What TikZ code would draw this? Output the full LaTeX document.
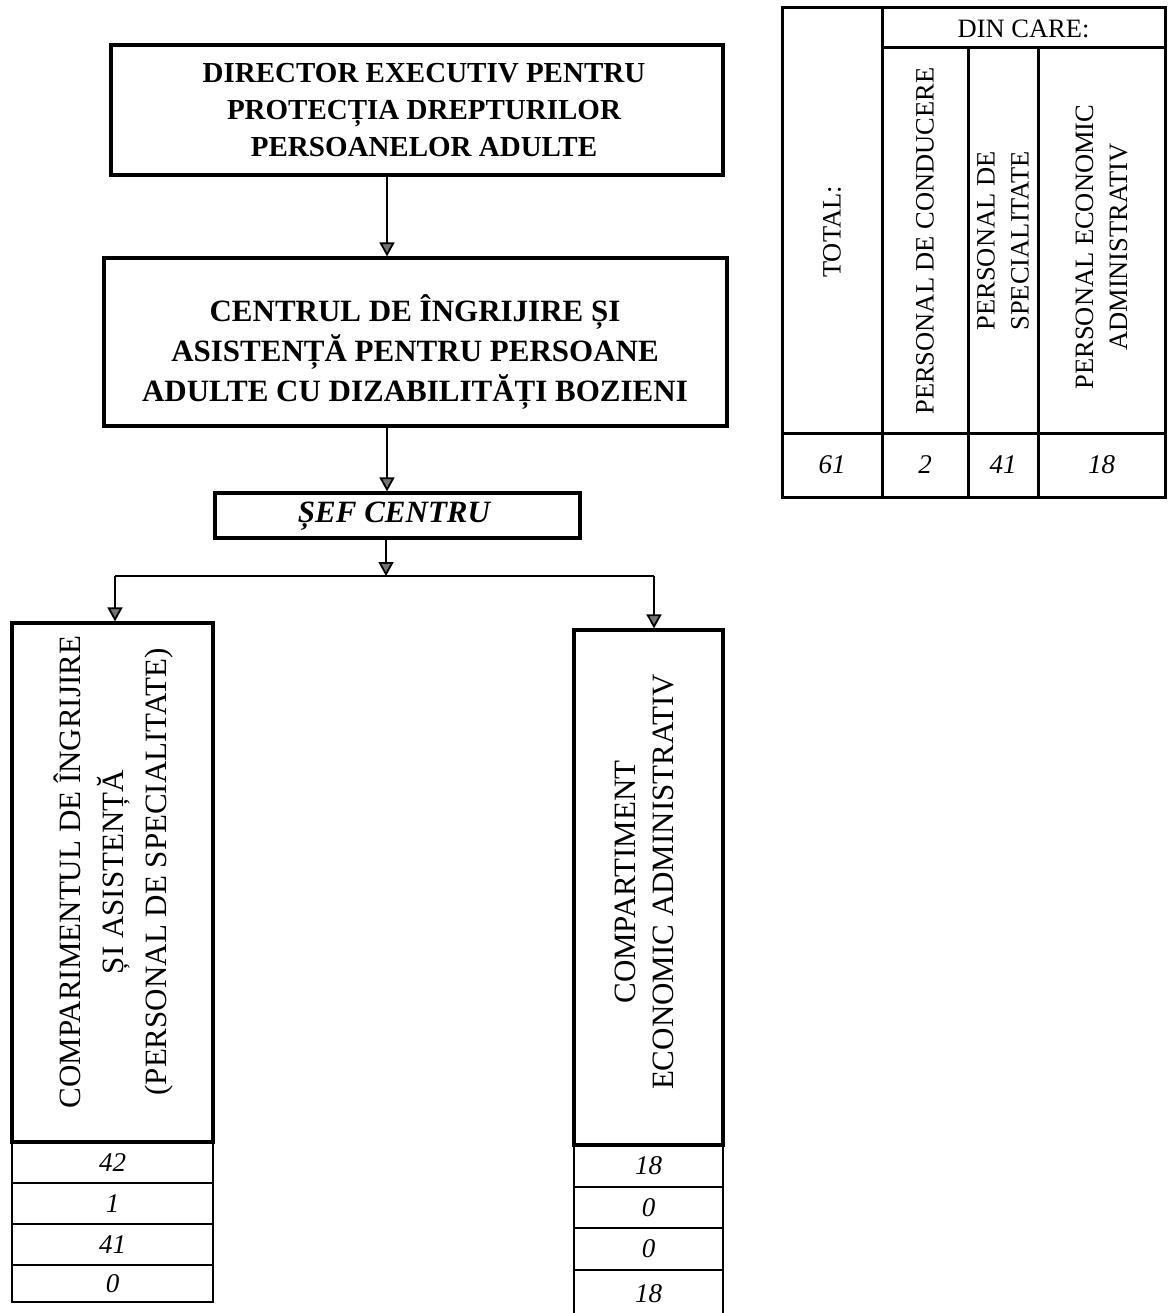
\documentclass[tikz,border=0pt]{standalone}
\usepackage{fontspec}
\setmainfont{Liberation Serif}
\usetikzlibrary{arrows.meta}
\tikzset{
  box/.style={draw, line width=3.2pt, inner sep=0pt},
  rowbox/.style={draw, line width=2pt, inner sep=0pt, font=\itshape\fontsize{27}{30}\selectfont},
  conn/.style={line width=1.8pt},
  arr/.style={conn, -{Triangle[width=15pt,length=14pt,fill=black!55]}},
  gridline/.style={line width=3pt},
  ttxt/.style={rotate=90, align=center, inner sep=0pt, font=\fontsize{26.5}{34}\selectfont},
  vtxt/.style={rotate=90, align=center, inner sep=0pt, font=\fontsize{31}{43}\selectfont},
  num/.style={inner sep=0pt, font=\itshape\fontsize{27}{30}\selectfont},
  head/.style={align=center, inner sep=0pt, font=\bfseries\fontsize{31}{40}\selectfont},
}
\begin{document}
\begin{tikzpicture}[x=1pt,y=-1pt]
\useasboundingbox (0,0) rectangle (1168,1313);
\fill[white] (0,0) rectangle (1168,1313);

% top boxes
\node[box, minimum width=612, minimum height=130] (dir) at (417,110) {};
\node[head, font=\bfseries\fontsize{29}{37}\selectfont] (dirtxt) at (424,110)
  {DIRECTOR EXECUTIV PENTRU\\PROTECȚIA DREPTURILOR\\PERSOANELOR ADULTE};

\node[box, minimum width=623, minimum height=168] (ctr) at (415.5,342) {};
\node[head] (ctrtxt) at (415,352)
  {CENTRUL DE ÎNGRIJIRE ȘI\\ASISTENȚĂ PENTRU PERSOANE\\ADULTE CU DIZABILITĂȚI BOZIENI};

\node[box, minimum width=365, minimum height=45] (sef) at (397.5,515.5) {};
\node[inner sep=0pt, font=\bfseries\itshape\fontsize{31}{36}\selectfont] (seftxt) at (394,516) {ȘEF CENTRU};

% bottom boxes
\node[box, minimum width=201, minimum height=519] (comp1) at (112.5,882.5) {};
\node[vtxt] (comp1txt) at (113,872)
  {COMPARIMENTUL DE ÎNGRIJIRE\\ȘI ASISTENȚĂ\\(PERSONAL DE SPECIALITATE)};
\node[rowbox, minimum width=201, minimum height=41] (l1) at (112.5,1162.5) {42};
\node[rowbox, minimum width=201, minimum height=41] (l2) at (112.5,1203.5) {1};
\node[rowbox, minimum width=201, minimum height=41] (l3) at (112.5,1244.5) {41};
\node[rowbox, minimum width=201, minimum height=37] (l4) at (112.5,1283.5) {0};

\node[box, minimum width=149, minimum height=515] (comp2) at (648.5,887.5) {};
\node[vtxt, font=\fontsize{31}{38}\selectfont] (comp2txt) at (644,882)
  {COMPARTIMENT\\ECONOMIC ADMINISTRATIV};
\node[rowbox, minimum width=149, minimum height=42] (r1) at (648.5,1166) {18};
\node[rowbox, minimum width=149, minimum height=41] (r2) at (648.5,1207.5) {0};
\node[rowbox, minimum width=149, minimum height=42] (r3) at (648.5,1249) {0};
\node[rowbox, minimum width=149, minimum height=48] (r4) at (648.5,1294) {18};

% connectors
\coordinate (ax) at (387,0);
\draw[arr] (ax |- dir.south) -- (ax |- ctr.north);
\draw[arr] (ax |- ctr.south) -- (ax |- sef.north);
\coordinate (bm) at (386,576);
\coordinate (bl) at (115,576);
\coordinate (bR) at (654,576);
\draw[arr] (bm |- sef.south) -- (bm);
\draw[conn] (bl) -- (bR);
\draw[arr] (bl) -- (bl |- comp1.north);
\draw[arr] (bR) -- (bR |- comp2.north);

% table
\draw[gridline] (782,8) rectangle (1165,497);
\draw[gridline] (882,8) -- (882,497);
\draw[gridline] (882,48) -- (1165,48);
\draw[gridline] (968,48) -- (968,497);
\draw[gridline] (1038,48) -- (1038,497);
\draw[gridline] (782,433) -- (1165,433);

\node[inner sep=0pt, font=\fontsize{26.5}{30}\selectfont] (dincare) at (1023.5,29) {DIN CARE:};
\node[ttxt] (ttotal) at (832,232) {TOTAL:};
\node[ttxt] (tcond) at (925,241) {PERSONAL DE CONDUCERE};
\node[ttxt] (tspec) at (1003,241) {PERSONAL DE\\SPECIALITATE};
\node[ttxt] (tecon) at (1101.5,247) {PERSONAL ECONOMIC\\ADMINISTRATIV};

\node[num] (v1) at (832,465) {61};
\node[num] (v2) at (925,465) {2};
\node[num] (v3) at (1003,465) {41};
\node[num] (v4) at (1101.5,465) {18};
\end{tikzpicture}
\end{document}
